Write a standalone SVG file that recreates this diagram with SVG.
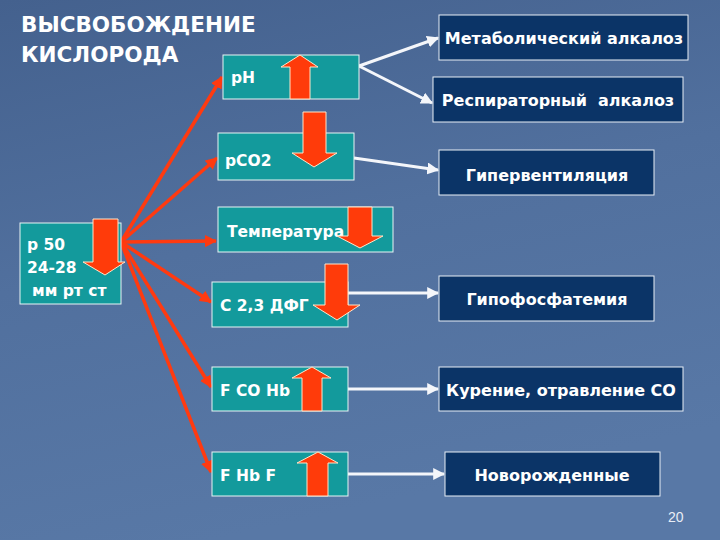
<svg xmlns="http://www.w3.org/2000/svg" width="720" height="540" viewBox="0 0 720 540">
<defs>
<linearGradient id="bg" x1="0" y1="0" x2="0.3" y2="1">
<stop offset="0" stop-color="#44618e"/>
<stop offset="0.5" stop-color="#51709e"/>
<stop offset="1" stop-color="#5878a6"/>
</linearGradient>
<marker id="wa" viewBox="0 0 10 10" refX="9" refY="5" markerWidth="4" markerHeight="4" orient="auto" markerUnits="strokeWidth">
<path d="M0,0 L10,5 L0,10 z" fill="#f4f6fa"/>
</marker>
<marker id="ra" viewBox="0 0 10 10" refX="9" refY="5" markerWidth="3.5" markerHeight="3.5" orient="auto" markerUnits="strokeWidth">
<path d="M0,0 L10,5 L0,10 z" fill="#ff3a10"/>
</marker>
</defs>
<style>
.teal{fill:#139a9c;stroke:#e8f4f4;stroke-width:1}
.navy{fill:#0b3467;stroke:#e8eef6;stroke-width:1}
.tl{font-family:"DejaVu Sans","Liberation Sans",sans-serif;font-weight:bold;font-size:15.5px;fill:#ffffff}
.tr{font-family:"DejaVu Sans","Liberation Sans",sans-serif;font-weight:bold;font-size:16px;fill:#ffffff;text-anchor:middle;white-space:pre}
.title{font-family:"DejaVu Sans","Liberation Sans",sans-serif;font-weight:bold;font-size:21.5px;fill:#ffffff}
.blk{fill:#ff3b0a;stroke:#ffe6c8;stroke-width:1}
.wc{stroke:#f4f6fa;stroke-width:3;fill:none;marker-end:url(#wa)}
.rc{stroke:#ff3a10;stroke-width:3.5;fill:none;marker-end:url(#ra)}
</style>
<rect width="720" height="540" fill="url(#bg)"/>
<text class="title" x="21" y="32">ВЫСВОБОЖДЕНИЕ</text>
<text class="title" x="21" y="62">КИСЛОРОДА</text>

<g id="connectors">
<line class="rc" x1="121" y1="242" x2="222" y2="77"/>
<line class="rc" x1="121" y1="242" x2="217" y2="158"/>
<line class="rc" x1="121" y1="242" x2="216" y2="241"/>
<line class="rc" x1="121" y1="242" x2="211" y2="302"/>
<line class="rc" x1="121" y1="242" x2="211" y2="387"/>
<line class="rc" x1="121" y1="242" x2="211" y2="472"/>
<line class="wc" x1="359" y1="66" x2="438" y2="38"/>
<line class="wc" x1="359" y1="66" x2="432" y2="103"/>
<line class="wc" x1="354" y1="158" x2="438" y2="170"/>
<line class="wc" x1="348" y1="293" x2="438" y2="293"/>
<line class="wc" x1="348" y1="389" x2="438" y2="389"/>
<line class="wc" x1="348" y1="474" x2="444" y2="474"/>
</g>

<g id="node-p50">
<rect class="teal" x="20" y="223" width="101" height="81"/>
<text class="tl" x="27" y="250">р 50</text>
<text class="tl" x="27" y="273">24-28</text>
<text class="tl" x="32" y="296">мм рт ст</text>
<polygon class="blk" points="93,219 118,219 118,262 125,262 105,275 83,262 93,262"/>
</g>

<g id="node-ph">
<rect class="teal" x="223" y="55" width="136" height="44"/>
<text class="tl" x="231" y="83">pH</text>
<polygon class="blk" points="290,99 310,99 310,67 318,67 300,55 281,67 290,67"/>
</g>

<g id="node-pco2">
<rect class="teal" x="218" y="133" width="136" height="47"/>
<text class="tl" x="225" y="166">pCO2</text>
<polygon class="blk" points="303,112 326,112 326,153 337,153 314,167 292,153 303,153"/>
</g>

<g id="node-temp">
<rect class="teal" x="218" y="207" width="175" height="45"/>
<text class="tl" x="227" y="237">Температура</text>
<polygon class="blk" points="348,207 372,207 372,236 383,236 360,248 337,236 348,236"/>
</g>

<g id="node-dpg">
<rect class="teal" x="212" y="282" width="136" height="45"/>
<text class="tl" x="220" y="311">С 2,3 ДФГ</text>
<polygon class="blk" points="325,264 348,264 348,305 360,305 337,320 313,305 325,305"/>
</g>

<g id="node-fcohb">
<rect class="teal" x="212" y="367" width="136" height="44"/>
<text class="tl" x="220" y="396">F CO Hb</text>
<polygon class="blk" points="302,411 322,411 322,378 331,378 312,367 292,378 302,378"/>
</g>

<g id="node-fhbf">
<rect class="teal" x="212" y="452" width="136" height="44"/>
<text class="tl" x="220" y="481">F Hb F</text>
<polygon class="blk" points="307,496 328,496 328,463 338,463 318,452 297,463 307,463"/>
</g>

<g id="node-metab">
<rect class="navy" x="439" y="15" width="249" height="45"/>
<text class="tr" x="564" y="44">Метаболический алкалоз</text>
</g>
<g id="node-resp">
<rect class="navy" x="433" y="77" width="250" height="45"/>
<text class="tr" x="558" y="106" xml:space="preserve">Респираторный  алкалоз</text>
</g>
<g id="node-hyperv">
<rect class="navy" x="439" y="150" width="215" height="45"/>
<text class="tr" x="547" y="181">Гипервентиляция</text>
</g>
<g id="node-hypoph">
<rect class="navy" x="439" y="276" width="215" height="45"/>
<text class="tr" x="547" y="305">Гипофосфатемия</text>
</g>
<g id="node-smoke">
<rect class="navy" x="439" y="367" width="244" height="44"/>
<text class="tr" x="561" y="396">Курение, отравление СО</text>
</g>
<g id="node-newborn">
<rect class="navy" x="445" y="452" width="215" height="44"/>
<text class="tr" x="552" y="481">Новорожденные</text>
</g>
<text x="668" y="522" font-family="Liberation Sans, Arial, sans-serif" font-size="14" fill="#e8eef6">20</text>
</svg>
